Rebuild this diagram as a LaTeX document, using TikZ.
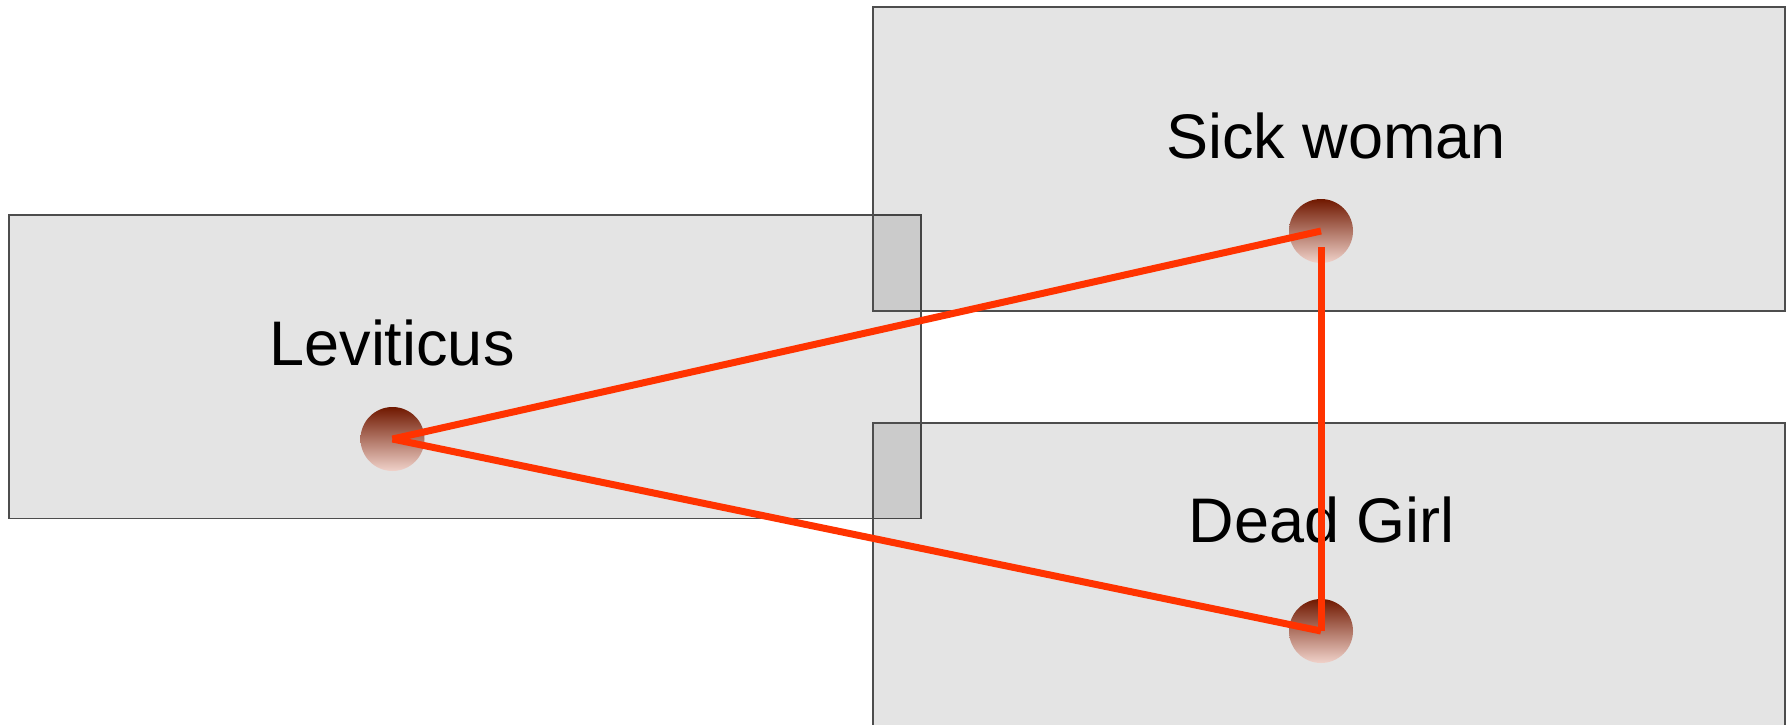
\documentclass[tikz,border=0pt]{standalone}
\usepackage{fontspec}
\setmainfont{Liberation Sans}
\usetikzlibrary{calc}
\definecolor{boxborder}{HTML}{4D4D4D}
\definecolor{linkred}{HTML}{FF3300}
\definecolor{balltop}{HTML}{701800}
\definecolor{ballbot}{HTML}{F0D2CA}
\begin{document}
\begin{tikzpicture}[x=1pt,y=-1pt,
  panel/.style={draw=boxborder,line width=1.6pt,fill=black,fill opacity=0.106},
  ball/.style={circle,minimum size=64pt,inner sep=0pt,top color=balltop,bottom color=ballbot,draw=none},
  label/.style={anchor=base,font=\fontsize{63}{75}\selectfont,text=black},
  link/.style={draw=linkred,line width=7pt}]
\useasboundingbox (0,0) rectangle (1792,725);
\clip (0,0) rectangle (1792,725);
\fill[white] (0,0) rectangle (1792,725);
\draw[panel] (9,215) rectangle (921,518.5);
\draw[panel] (873,7) rectangle (1785,310.7);
\draw[panel] (873,422.7) rectangle (1785,760);
\node[label] (tl) at (392,365.7) {Leviticus};
\node[label] (ts) at (1336,158.3) {Sick woman};
\node[label] (td) at (1321.7,542.7) {Dead Girl};
\node[ball] (lc) at (392.5,439) {};
\node[ball] (sc) at (1321,231) {};
\node[ball] (dc) at (1321,631) {};
\coordinate (sv) at ($(sc.center)+(0,16)$);
\draw[link] (lc.center) -- (sc.center);
\draw[link] (lc.center) -- (dc.center);
\draw[link] (sv) -- (dc.center);
\end{tikzpicture}
\end{document}
